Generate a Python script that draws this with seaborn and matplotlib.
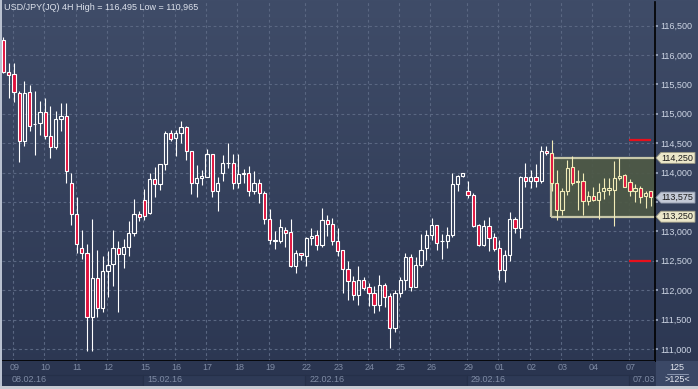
import numpy as np
import pandas as pd
import matplotlib
matplotlib.use("Agg")
import matplotlib.pyplot as plt
from matplotlib.patches import Rectangle, Polygon
from matplotlib.colors import LinearSegmentedColormap
import seaborn as sns

# 4H candles (oldest first)
opens = [116.25, 115.71, 115.67, 115.35, 114.54, 115.37, 114.82, 114.85, 115.03, 114.63,
         114.43, 114.91, 114.97, 113.83, 113.29, 112.71, 112.63, 111.54, 112.20, 111.69,
         112.33, 112.44, 112.71, 112.61, 112.73, 112.97, 113.29, 113.53, 113.32, 113.89,
         113.80, 114.14, 114.67, 114.58, 114.67, 114.77, 114.36, 113.83, 113.90, 113.93,
         114.31, 113.68, 113.99, 114.16, 114.16, 113.82, 113.98, 113.99, 113.68, 113.83,
         113.65, 113.21, 112.84, 112.83, 113.02, 112.99, 112.41, 112.64, 112.58, 112.88,
         112.94, 112.77, 113.19, 113.13, 112.84, 112.68, 112.36, 112.16, 111.92, 112.17,
         112.05, 111.96, 111.74, 112.09, 111.90, 111.36, 111.95, 112.18, 112.56, 112.06,
         112.43, 112.71, 112.93, 113.10, 112.83, 112.83, 112.93, 113.80, 113.94, 113.68,
         113.62, 113.11, 112.77, 113.09, 112.90, 112.71, 112.34, 112.60, 113.21, 113.05,
         113.93, 113.85, 113.92, 113.85, 114.37, 114.33, 113.82, 113.36, 113.68, 114.09,
         113.84, 113.85, 113.51, 113.60, 113.54, 113.68, 113.70, 113.70, 113.90, 113.96,
         113.84, 113.68, 113.73, 113.61, 113.68]
highs = [116.30, 115.86, 115.87, 115.38, 115.55, 115.49, 115.39, 115.22, 115.26, 115.13,
         115.04, 115.18, 115.18, 113.99, 113.59, 113.02, 112.78, 113.21, 112.68, 112.58,
         112.67, 113.02, 112.84, 112.87, 113.18, 113.55, 113.34, 113.72, 114.00, 114.10,
         114.14, 114.70, 114.72, 114.72, 114.88, 114.80, 114.36, 114.13, 114.04, 114.40,
         114.31, 113.92, 114.30, 114.51, 114.32, 114.32, 114.06, 114.11, 114.02, 113.89,
         113.68, 113.38, 113.00, 113.21, 113.07, 113.21, 112.68, 112.64, 112.91, 113.05,
         113.02, 113.39, 113.28, 113.22, 113.05, 112.68, 112.50, 112.24, 112.41, 112.22,
         112.13, 112.07, 112.26, 112.12, 111.96, 112.01, 112.23, 112.63, 112.62, 112.57,
         112.96, 113.02, 113.22, 113.11, 112.96, 113.07, 114.00, 113.96, 114.00, 113.85,
         113.66, 113.13, 113.19, 113.24, 112.98, 112.85, 112.68, 113.33, 113.24, 113.94,
         114.17, 114.04, 114.15, 114.46, 114.46, 114.55, 114.04, 113.73, 114.22, 114.28,
         114.04, 113.99, 113.68, 113.76, 113.82, 113.91, 113.90, 114.20, 114.25, 113.98,
         113.89, 113.81, 113.78, 113.68, 113.69]
lows = [115.70, 115.27, 115.20, 114.18, 114.45, 114.70, 114.30, 114.64, 114.57, 114.25,
        114.40, 114.71, 113.83, 113.10, 112.64, 112.53, 110.97, 110.97, 111.55, 111.63,
        111.89, 112.07, 111.63, 112.38, 112.58, 112.92, 113.18, 113.19, 113.30, 113.59,
        113.70, 114.04, 114.53, 114.29, 114.50, 114.21, 113.64, 113.58, 113.79, 113.92,
        113.58, 113.35, 113.85, 114.07, 113.72, 113.73, 113.82, 113.61, 113.64, 113.48,
        113.13, 112.78, 112.70, 112.80, 112.74, 112.39, 112.30, 112.52, 112.41, 112.77,
        112.68, 112.74, 112.92, 112.77, 112.58, 111.96, 111.84, 111.83, 111.75, 112.00,
        111.73, 111.62, 111.65, 111.72, 111.01, 111.29, 111.89, 112.00, 111.98, 112.05,
        112.40, 112.52, 112.85, 112.68, 112.53, 112.71, 112.91, 113.68, 113.93, 113.56,
        113.07, 112.75, 112.75, 112.66, 112.67, 112.18, 112.14, 112.50, 112.98, 112.88,
        113.76, 113.73, 113.75, 113.82, 114.30, 113.68, 113.20, 113.28, 113.62, 113.79,
        113.36, 113.28, 113.45, 113.51, 113.21, 113.55, 113.62, 113.09, 113.87, 113.75,
        113.60, 113.50, 113.48, 113.40, 113.44]
closes = [115.71, 115.66, 115.37, 114.54, 115.35, 114.80, 114.83, 115.03, 114.63, 114.43,
          114.91, 114.97, 114.02, 113.29, 112.79, 112.63, 111.54, 112.20, 111.69, 112.33,
          112.42, 112.71, 112.61, 112.73, 112.97, 113.29, 113.24, 113.27, 113.89, 113.80,
          114.14, 114.67, 114.57, 114.67, 114.77, 114.36, 113.83, 113.90, 113.95, 114.31,
          113.68, 113.83, 114.16, 114.17, 113.82, 113.98, 113.99, 113.68, 113.83, 113.65,
          113.21, 112.85, 112.85, 113.07, 112.98, 112.41, 112.64, 112.60, 112.88, 112.92,
          112.77, 113.19, 113.12, 112.83, 112.67, 112.36, 112.15, 111.91, 112.17, 112.03,
          111.96, 111.74, 112.09, 111.89, 111.35, 111.95, 112.18, 112.56, 112.06, 112.43,
          112.68, 112.93, 113.10, 112.81, 112.84, 112.93, 113.80, 113.94, 114.00, 113.62,
          113.09, 112.77, 113.09, 112.89, 112.70, 112.34, 112.60, 113.21, 113.05, 113.92,
          113.85, 113.92, 113.85, 114.37, 114.33, 113.82, 113.36, 113.69, 114.07, 113.83,
          113.85, 113.51, 113.60, 113.53, 113.67, 113.73, 113.73, 113.90, 113.95, 113.75,
          113.69, 113.73, 113.58, 113.65, 113.58]

day_labels = ["09", "10", "11", "12", "15", "16", "17", "18", "19", "22",
              "23", "24", "25", "26", "29", "01", "02", "03", "04", "07"]
day_starts = [2, 8, 14, 20, 27, 33, 39, 45, 51, 58, 64, 70, 76, 82, 89, 95, 101, 107, 113, 120]
week_labels = ["08.02.16", "15.02.16", "22.02.16", "29.02.16", "07.03"]
week_starts = [1, 27, 58, 89, 120]

price_ticks = [111.0, 111.5, 112.0, 112.5, 113.0, 113.5, 114.0, 114.5, 115.0, 115.5, 116.0, 116.5]
box_low, box_high = 113.25, 114.25
box_start = 105
last_price = 113.575
red_levels = [114.55, 112.50]
title = "USD/JPY(JQ) 4H High = 116,495 Low = 110,965"

df = pd.DataFrame({"open": opens, "high": highs, "low": lows, "close": closes})
df["x"] = np.arange(len(df))

sns.set_theme(style="dark", rc={"axes.facecolor": "none", "figure.facecolor": "#33405c"})
plt.rcParams["font.family"] = ["Liberation Sans", "DejaVu Sans"]

W, H = 698, 389
fig = plt.figure(figsize=(W / 100, H / 100), dpi=100)


def fx(px):
    return px / W


def fy(py):
    return 1 - py / H


# background gradient
bg = fig.add_axes([0, 0, 1, 1], zorder=-10)
cmap = LinearSegmentedColormap.from_list("bg", ["#2b3651", "#3f4c68"])
bg.imshow(np.linspace(0, 1, 256).reshape(-1, 1)[::-1], aspect="auto", cmap=cmap,
          extent=[0, 1, 0, 1])
bg.set_axis_off()

ax = fig.add_axes([fx(2), fy(360.5), fx(653), 358.5 / H])
ax.set_xlim(-0.287, 124.81)
ax.set_ylim(110.804, 116.901)

grid_kw = dict(color="#5a6782", lw=0.8, linestyle=(0, (2.5, 2.5)), zorder=0)
for p in price_ticks:
    ax.axhline(p, **grid_kw)
for d in day_starts:
    ax.axvline(d - 0.2, **grid_kw)

# range box
ax.add_patch(Rectangle((box_start - 0.1, box_low), 40, box_high - box_low,
                       facecolor="#4e5946", alpha=0.92, edgecolor="none", zorder=1))
ax.hlines([box_low, box_high], box_start - 0.1, 130, colors="#c8c8aa", lw=1.6, zorder=1.5)
ax.vlines(box_start - 0.1, box_low, box_high, colors="#c8c8aa", lw=1.6, zorder=1.5)

up = df["close"] >= df["open"]
top = df[["open", "close"]].max(axis=1)
bot = df[["open", "close"]].min(axis=1)
height = (top - bot).clip(lower=0.006)
inbox = df["x"] >= box_start
edge = np.where(inbox, "#f2ecb8", "white")
face = np.where(up, "none", "#e0103c")

ax.vlines(df["x"], top, df["high"], colors=edge, lw=0.8, zorder=3)
ax.vlines(df["x"], df["low"], bot, colors=edge, lw=0.8, zorder=3)
ax.bar(df["x"], height, bottom=bot, width=0.62, color=face, edgecolor=edge,
       linewidth=0.8, zorder=4)

ax.hlines(red_levels, 119.8, 124.0, colors="#e8101c", lw=1.6, zorder=5)

ax.set_xticks([])
ax.yaxis.tick_right()
ax.set_yticks(price_ticks)
# the 113,500 label sits under the last-price tag, so it is left blank
ax.set_yticklabels(["" if abs(p - 113.5) < 1e-9 else f"{p:.3f}".replace(".", ",")
                    for p in price_ticks])
ax.tick_params(axis="y", labelsize=6.5, labelcolor="#cdd5e4", color="#9aa6bf",
               length=2, pad=2, right=True, left=False)
for s in ["left", "top"]:
    ax.spines[s].set_visible(False)
for s in ["right", "bottom"]:
    ax.spines[s].set_visible(True)
    ax.spines[s].set_color("black")
    ax.spines[s].set_linewidth(1.2)
ax.grid(False)

# date strip
sx = fig.add_axes([fx(2), fy(386), fx(653), 25 / H], zorder=2)
sx.set_facecolor("#2a3550")
sx.set_xlim(ax.get_xlim())
sx.set_ylim(0, 1)
sx.set_axis_off()
sx.add_patch(Rectangle((-0.3, 0), 130, 1, facecolor="#2a3550", edgecolor="none", zorder=0))
bounds = week_starts[1:] + [130]
for i, (ws, we) in enumerate(zip([week_starts[0] - 1.3] + week_starts[1:], bounds)):
    sx.add_patch(Rectangle((ws - 0.2, 0.02), we - ws, 0.44,
                           facecolor="#2e3a56" if i % 2 else "#2a3550",
                           edgecolor="#253049", lw=0.8, zorder=1))
for d, lab in zip(day_starts, day_labels):
    sx.text(d + 0.1, 0.72, lab, ha="center", va="center", fontsize=6.5,
            color="#7f8ba4", clip_on=True)
for w, lab in zip(week_starts, week_labels):
    sx.text(w + 0.57, 0.26, lab, ha="left", va="center", fontsize=6.5,
            color="#7f8ba4", clip_on=True)

# bars-count box
fig.add_artist(Rectangle((fx(656), fy(386)), fx(42), 25 / H, transform=fig.transFigure,
                         facecolor="#3b4866", edgecolor="none"))
fig.text(fx(677), fy(368), "125", ha="center", va="center", fontsize=6.5, color="#e2e6ef")
fig.add_artist(plt.Line2D([fx(667), fx(688)], [fy(373.5), fy(373.5)],
                          transform=fig.transFigure, color="#8a96b0", lw=0.7))
fig.text(fx(677.5), fy(379.5), ">125<", ha="center", va="center", fontsize=6.5, color="#e2e6ef")

# frame
fig.add_artist(Rectangle((0, 0), fx(1.5), 1, transform=fig.transFigure,
                         facecolor="#b9c1d0", edgecolor="none"))
fig.add_artist(Rectangle((0, 0), 1, 3 / H, transform=fig.transFigure,
                         facecolor="#c6cad2", edgecolor="none"))

fig.text(fx(4), fy(8), title, ha="left", va="center", fontsize=6.5, color="#dde2ec")


# price tags on the axis
def tag(price, fill, border):
    yc = ax.transData.transform((0, price))[1]
    yc = H - yc
    pts = [(656, yc), (661, yc - 5.5), (695, yc - 5.5), (695, yc + 5.5), (661, yc + 5.5)]
    fig.add_artist(Polygon([(fx(a), fy(b)) for a, b in pts], closed=True,
                           transform=fig.transFigure, facecolor=fill, edgecolor=border,
                           lw=0.6, zorder=10))
    fig.text(fx(661.5), fy(yc), f"{price:.3f}".replace(".", ","), ha="left", va="center",
             fontsize=6.5, color="#1c1c1c", zorder=11)


tag(box_high, "#ebe7c9", "#9c9a84")
tag(last_price, "#c3c9d6", "#8c94a6")
tag(box_low, "#ebe7c9", "#9c9a84")

fig.savefig("out.png", dpi=100)
